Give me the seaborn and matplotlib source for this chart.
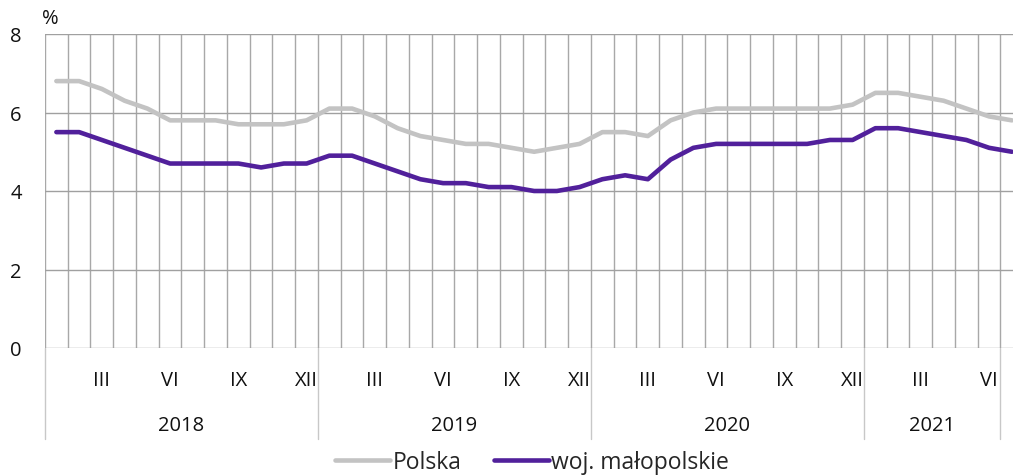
import numpy as np
import pandas as pd
import matplotlib
matplotlib.use("Agg")
import matplotlib.pyplot as plt
import seaborn as sns

# stopa bezrobocia, I 2018 - VII 2021
years = ["2018", "2019", "2020", "2021"]
months_per_year = [12, 12, 12, 6]
roman = ["I", "II", "III", "IV", "V", "VI", "VII", "VIII", "IX", "X", "XI", "XII"]

polska = [6.8, 6.8, 6.6, 6.3, 6.1, 5.8, 5.8, 5.8, 5.7, 5.7, 5.7, 5.8,
          6.1, 6.1, 5.9, 5.6, 5.4, 5.3, 5.2, 5.2, 5.1, 5.0, 5.1, 5.2,
          5.5, 5.5, 5.4, 5.8, 6.0, 6.1, 6.1, 6.1, 6.1, 6.1, 6.1, 6.2,
          6.5, 6.5, 6.4, 6.3, 6.1, 5.9, 5.8]
malopolskie = [5.5, 5.5, 5.3, 5.1, 4.9, 4.7, 4.7, 4.7, 4.7, 4.6, 4.7, 4.7,
               4.9, 4.9, 4.7, 4.5, 4.3, 4.2, 4.2, 4.1, 4.1, 4.0, 4.0, 4.1,
               4.3, 4.4, 4.3, 4.8, 5.1, 5.2, 5.2, 5.2, 5.2, 5.2, 5.3, 5.3,
               5.6, 5.6, 5.5, 5.4, 5.3, 5.1, 5.0]

n = len(polska)
df = pd.DataFrame({
    "m": list(range(n)) * 2,
    "val": polska + malopolskie,
    "seria": ["Polska"] * n + ["woj. małopolskie"] * n,
})

sns.set_theme(style="white")
plt.rcParams["font.family"] = ["Open Sans", "DejaVu Sans"]

fig = plt.figure(figsize=(10.13, 4.77), dpi=100)
ax = fig.add_axes([45 / 1013, 1 - 349 / 477, 1 - 45 / 1013, 314 / 477])

sns.lineplot(data=df, x="m", y="val", hue="seria",
             palette={"Polska": "#c3c3c3", "woj. małopolskie": "#51209b"},
             linewidth=3.3, ax=ax, legend=True, solid_capstyle="round")

ax.set_xlabel("")
ax.set_ylabel("")
for s in ax.spines.values():
    s.set_visible(False)

# month boundary grid
ax.set_xticks(np.arange(-0.5, n, 1), minor=True)
ax.grid(True, which="minor", axis="x", color="#a8a8a8", linewidth=1)
ax.grid(True, which="major", axis="y", color="#a0a0a0", linewidth=1)
ax.set_axisbelow(True)

major = [i for i in range(n) if i % 12 in (2, 5, 8, 11)]
ax.set_xticks(major)
ax.set_xticklabels([roman[i % 12] for i in major])
ax.set_yticks([0, 2, 4, 6, 8])
ax.set_xlim(-0.5, 42.05)
ax.set_ylim(0, 8)
ax.tick_params(axis="x", which="both", length=0, pad=16, labelsize=14.5, colors="#111111")
ax.tick_params(axis="y", length=0, pad=25, labelsize=14.5, colors="#111111")
for lab in ax.get_yticklabels():
    lab.set_horizontalalignment("left")

fig.text(42 / 1013, 1 - 19 / 477, "%", fontsize=14.5, color="#111111", ha="left", va="center")

# year groups
tr = ax.get_xaxis_transform()
start = -0.5
for y, k in zip(years, months_per_year):
    end = start + k
    ax.text((start + end) / 2, -0.245, y, transform=tr, ha="center", va="center",
            fontsize=14.5, color="#111111")
    ax.plot([end, end], [0, -0.29], transform=tr, color="#c8c8c8", lw=1, clip_on=False)
    start = end
ax.plot([-0.5, -0.5], [0, -0.29], transform=tr, color="#c8c8c8", lw=1, clip_on=False)

h, l = ax.get_legend_handles_labels()
ax.legend_.remove()
for hh in h:
    hh.set_solid_capstyle("round")
fig.legend(h, l, loc="center", bbox_to_anchor=(532 / 1013, 0.03), ncol=2, frameon=False,
           fontsize=16.5, handlelength=2.4, handletextpad=0.1, columnspacing=1.4)

fig.savefig("out.png", dpi=100)
